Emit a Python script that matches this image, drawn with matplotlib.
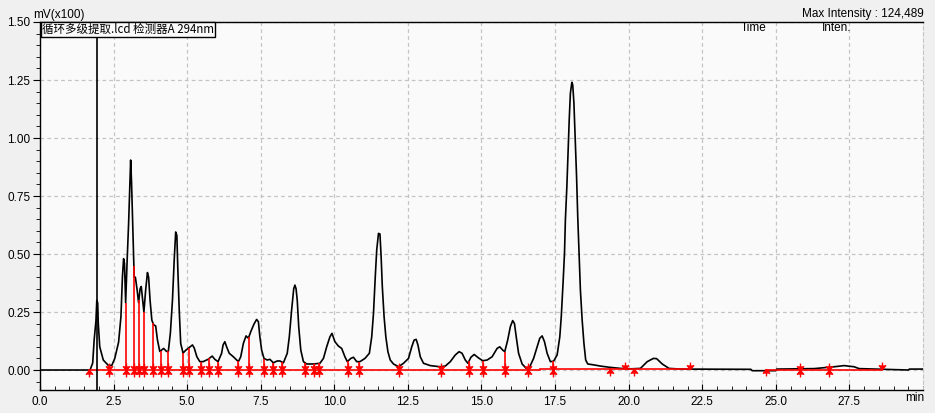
import numpy as np
import matplotlib
matplotlib.use("Agg")
import matplotlib.pyplot as plt
from matplotlib.path import Path

plt.rcParams['font.family'] = ['Liberation Sans', 'Noto Sans CJK SC', 'DejaVu Sans']

# chromatogram trace (min, mV x100)
time_min = [0.0, 1.70, 1.79, 1.84, 1.90, 1.93, 1.96, 1.98, 2.03, 2.15, 2.32, 2.44, 2.54, 2.67,
            2.75, 2.80, 2.84, 2.87, 2.91, 2.96, 3.01, 3.06, 3.08, 3.11, 3.16, 3.20, 3.24, 3.30,
            3.35, 3.40, 3.44, 3.49, 3.53, 3.59, 3.65, 3.69, 3.74, 3.80, 3.86, 3.93, 3.99, 4.07,
            4.12, 4.20, 4.30, 4.36, 4.43, 4.50, 4.56, 4.61, 4.65, 4.68, 4.73, 4.78, 4.86, 4.95,
            5.03, 5.10, 5.18, 5.24, 5.33, 5.43, 5.54, 5.71, 5.85, 5.94, 6.05, 6.17, 6.22, 6.28,
            6.34, 6.43, 6.57, 6.74, 6.82, 6.91, 7.00, 7.08, 7.16, 7.27, 7.36, 7.42, 7.47, 7.53,
            7.61, 7.72, 7.81, 7.93, 8.06, 8.15, 8.27, 8.40, 8.47, 8.55, 8.62, 8.66, 8.70, 8.74,
            8.79, 8.86, 8.95, 9.06, 9.29, 9.51, 9.63, 9.74, 9.85, 9.92, 10.02, 10.14, 10.25,
            10.36, 10.44, 10.56, 10.65, 10.76, 10.87, 11.04, 11.19, 11.27, 11.33, 11.39, 11.44,
            11.50, 11.55, 11.59, 11.63, 11.69, 11.75, 11.82, 11.90, 12.01, 12.18, 12.35, 12.52,
            12.63, 12.71, 12.78, 12.84, 12.92, 13.03, 13.26, 13.60, 13.77, 13.94, 14.11, 14.24,
            14.34, 14.45, 14.54, 14.64, 14.75, 14.90, 15.04, 15.19, 15.36, 15.53, 15.62, 15.72,
            15.79, 15.89, 15.98, 16.06, 16.12, 16.18, 16.26, 16.38, 16.52, 16.64, 16.77, 16.89,
            16.98, 17.06, 17.14, 17.23, 17.34, 17.45, 17.57, 17.66, 17.71, 17.77, 17.82, 17.85,
            17.90, 17.94, 17.98, 18.02, 18.07, 18.10, 18.14, 18.18, 18.23, 18.27, 18.32, 18.36,
            18.42, 18.48, 18.54, 18.61, 18.82, 19.04, 19.33, 19.72, 20.06, 20.40, 20.63, 20.84,
            20.95, 21.14, 21.37, 21.77, 24.15, 24.20, 25.00, 25.03, 26.30, 26.98, 27.32, 27.66,
            27.83, 29.48, 29.50, 29.54, 30.05]
intensity = [0.0, 0.0, 0.03, 0.13, 0.21, 0.30, 0.29, 0.20, 0.10, 0.043, 0.02, 0.02, 0.05, 0.12,
             0.23, 0.40, 0.48, 0.46, 0.29, 0.47, 0.63, 0.82, 0.905, 0.81, 0.59, 0.40, 0.40, 0.345,
             0.29, 0.35, 0.36, 0.30, 0.25, 0.345, 0.42, 0.40, 0.30, 0.215, 0.195, 0.19, 0.13, 0.08,
             0.085, 0.093, 0.08, 0.08, 0.16, 0.30, 0.475, 0.595, 0.58, 0.445, 0.26, 0.115, 0.073, 0.085,
             0.093, 0.10, 0.108, 0.095, 0.057, 0.036, 0.036, 0.046, 0.06, 0.046, 0.036, 0.072, 0.108, 0.122,
             0.10, 0.072, 0.057, 0.036, 0.057, 0.115, 0.147, 0.137, 0.165, 0.198, 0.218, 0.208, 0.143, 0.086,
             0.05, 0.043, 0.046, 0.031, 0.039, 0.039, 0.031, 0.072, 0.143, 0.26, 0.35, 0.366, 0.35, 0.30,
             0.187, 0.086, 0.036, 0.026, 0.026, 0.029, 0.05, 0.10, 0.143, 0.158, 0.122, 0.103, 0.093,
             0.057, 0.036, 0.05, 0.055, 0.036, 0.036, 0.05, 0.072, 0.143, 0.244, 0.40, 0.517,
             0.589, 0.586, 0.488, 0.36, 0.23, 0.143, 0.079, 0.043, 0.026, 0.014, 0.029, 0.05,
             0.10, 0.129, 0.132, 0.108, 0.057, 0.029, 0.019, 0.014, 0.017, 0.036, 0.065, 0.079,
             0.072, 0.043, 0.029, 0.055, 0.067, 0.052, 0.04, 0.043, 0.057, 0.093, 0.10, 0.086,
             0.079, 0.129, 0.187, 0.213, 0.20, 0.143, 0.072, 0.026, 0.007, 0.014, 0.05, 0.10,
             0.137, 0.147, 0.122, 0.072, 0.036, 0.038, 0.065, 0.143, 0.23, 0.373, 0.503, 0.647,
             0.79, 0.934, 1.078, 1.193, 1.24, 1.228, 1.15, 1.006, 0.833, 0.66, 0.488, 0.345,
             0.215, 0.115, 0.043, 0.026, 0.022, 0.017, 0.012, 0.007, 0.005, 0.007, 0.036, 0.05,
             0.049, 0.026, 0.007, 0.004, 0.003, -0.003, -0.003, 0.004, 0.006, 0.014, 0.019, 0.014,
             0.006, 0.0, 0.0, 0.004, 0.004]

# integration marks
peak_start = [1.68, 19.38, 20.18, 24.66]
peak_end = [19.89, 22.07, 28.61]
peak_split = [2.33, 2.91, 3.19, 3.36, 3.53, 3.84, 4.10, 4.35, 4.86, 5.06, 5.46, 5.75, 6.05,
              6.73, 7.10, 7.62, 7.92, 8.23, 9.00, 9.31, 9.49, 10.46, 10.85, 12.20, 13.64,
              14.57, 15.04, 15.79, 16.57, 17.43, 25.83, 26.81]
base_from = [1.68, 16.98, 19.38, 24.66]
base_to = [16.98, 19.38, 22.07, 28.61]
base_level = [0.0, 0.005, 0.003, 0.001]

marker_time = 1.95

fig = plt.figure(figsize=(9.35, 4.13), dpi=100, facecolor='#f0f0f0')
ax = fig.add_axes([40/935, 1-389.5/413, 883/935, 367.5/413], facecolor='#fafafa')

ax.set_xlim(0, 30)
ax.set_ylim(-0.084, 1.5)

# baseline and drop lines
for a, b, lv in zip(base_from, base_to, base_level):
    ax.plot([a, b], [lv, lv], color='red', lw=1.2, zorder=4)
drop_top = np.interp(peak_split, time_min, intensity)
ax.vlines(peak_split, 0, drop_top, color='red', lw=1.2, zorder=4)

ax.plot(time_min, intensity, color='black', lw=1.2, zorder=3)

M, L = Path.MOVETO, Path.LINETO
up = Path([(0, 0), (0, -1), (-0.5, -0.6), (0, 0), (0.5, -0.6)], [M, L, M, L, L])
down = Path([(0, 0), (0, 1), (-0.5, 0.6), (0, 0), (0.5, 0.6)], [M, L, M, L, L])
both = Path([(0, -1), (0, 1), (-0.5, -0.6), (0, 0), (0.5, -0.6),
             (-0.5, 0.6), (0, 0), (0.5, 0.6)], [M, L, M, L, L, M, L, L])
kw = dict(ls='none', color='red', ms=10, mew=1.0, zorder=5)
ax.plot(peak_start, np.interp(peak_start, base_from + base_to, base_level + base_level), marker=up, **kw)
ax.plot(peak_end, np.zeros(len(peak_end)) + 0.003, marker=down, **kw)
ax.plot(peak_split, np.zeros(len(peak_split)), marker=both, **kw)

ax.axvline(marker_time, color='black', lw=1.2, zorder=6)

# axes styling
ax.set_xticks(np.arange(0, 30, 2.5))
ax.set_xticks(np.arange(0, 30.01, 0.5), minor=True)
ax.set_yticks(np.arange(0, 1.51, 0.25))
ax.set_yticks(np.arange(-0.05, 1.51, 0.05), minor=True)
ax.xaxis.set_major_formatter(matplotlib.ticker.FormatStrFormatter('%.1f'))
ax.yaxis.set_major_formatter(matplotlib.ticker.FormatStrFormatter('%.2f'))
ax.tick_params(axis='x', which='both', direction='in', labelsize=8.5, pad=5)
ax.tick_params(axis='x', which='major', length=4)
ax.tick_params(axis='x', which='minor', length=3)
ax.tick_params(axis='y', which='both', direction='out', labelsize=8.5, pad=2)
ax.tick_params(axis='y', which='major', length=5)
ax.tick_params(axis='y', which='minor', length=3)
ax.grid(True, which='major', color='#c4c4c4', ls=(0, (3, 2.5)), lw=0.9)
for s in ['left', 'bottom', 'top']:
    ax.spines[s].set_color('black')
    ax.spines[s].set_linewidth(1.0)
ax.spines['right'].set_color('#c4c4c4')
ax.spines['right'].set_linestyle((0, (3, 2.5)))

ax.text(0.002, 0.998, '循环多级提取.lcd 检测器A 294nm', transform=ax.transAxes,
        ha='left', va='top', fontsize=8.3, family=['Noto Sans CJK SC', 'DejaVu Sans'],
        bbox=dict(boxstyle='square,pad=0.1', fc='#fafafa', ec='black', lw=1.0), zorder=7)
ax.text(767/935, 1-28/413, 'Time', transform=fig.transFigure, ha='right', va='center', fontsize=8.5)
ax.text(822/935, 1-28/413, 'Inten.', transform=fig.transFigure, ha='left', va='center', fontsize=8.5)
fig.text(33/935, 1-21/413, 'mV(x100)', ha='left', va='bottom', fontsize=8.5)
fig.text(924/935, 1-20/413, 'Max Intensity : 124,489', ha='right', va='bottom', fontsize=8.5)
fig.text(915/935, 1-398/413, 'min', ha='center', va='center', fontsize=8.5)

fig.savefig('out.png', dpi=100, facecolor=fig.get_facecolor())
